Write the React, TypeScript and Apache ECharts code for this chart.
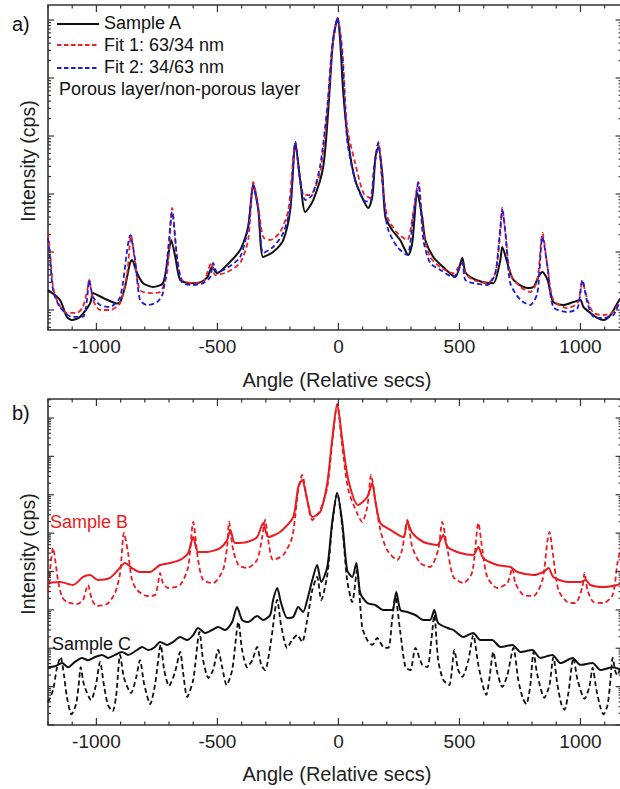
import React, { useEffect, useRef } from 'react';
import * as echarts from 'echarts';

const FONT = '"Liberation Sans", Arial, Helvetica, sans-serif';

// Shared x axis (Angle, relative secs)
const X_MIN = -1200;
const X_MAX = 1170;
const X_LABELS = [-1000, -500, 0, 500, 1000];

// Panel a log axis extent and decades
const A_Y_MIN = 4.52;
const A_Y_MAX = 1.815e6;
const A_Y_MAJOR = [10, 100, 1e3, 1e4, 1e5, 1e6];
// Panel b log axis extent and decades
const B_Y_MIN = 1;
const B_Y_MAX = 3.126e8;
const B_Y_MAJOR = [1, 10, 100, 1e3, 1e4, 1e5, 1e6, 1e7, 1e8];

// ---------- Panel a ----------
const SAMPLE_A = [
  [-1200, 22], [-1151, 15], [-1122, 7.6], [-1101, 6.7], [-1068, 7.6], [-1026, 13], [-1014, 19.6], [-1006, 19],
  [-956, 15], [-915, 13], [-902, 13.7], [-882, 25], [-861, 65], [-853, 73], [-832, 43], [-807, 29], [-766, 25],
  [-725, 29], [-704, 82], [-691, 161], [-674, 82], [-654, 33], [-613, 29], [-572, 30], [-543, 36], [-522, 55],
  [-501, 43], [-460, 60], [-406, 108], [-373, 270], [-352, 1430], [-331, 530], [-311, 82], [-270, 100], [-228, 161],
  [-199, 530], [-178, 7570], [-158, 1740], [-137, 490], [-104, 788], [-63, 2920], [-42, 28100], [-22, 452000],
  [-3, 1080000], [7, 450000], [20, 55000], [41, 7570], [69, 1740], [103, 788], [123, 574], [140, 888], [153, 4350],
  [165, 6460], [181, 2300], [194, 401], [222, 239], [255, 161], [289, 89], [305, 143], [326, 1040], [346, 401],
  [359, 161], [392, 82], [433, 55], [483, 37], [512, 79], [524, 45], [545, 37], [598, 30], [640, 29], [669, 73],
  [677, 122], [698, 65], [723, 33], [781, 24], [806, 25], [826, 37], [843, 45], [864, 33], [888, 13.7], [930, 12.2],
  [971, 13.7], [1000, 14.9], [1012, 11.3], [1041, 8.9], [1070, 7.3], [1095, 6.7], [1124, 8.2], [1153, 13.2], [1170, 17],
];

const FIT_1 = [
  [-1200, 213], [-1192, 108], [-1179, 25], [-1158, 13.2], [-1122, 8.9], [-1081, 8.9], [-1056, 11.3], [-1035, 25],
  [-1030, 33], [-1014, 14.9], [-985, 10], [-944, 10], [-902, 13.2], [-873, 43], [-857, 196], [-840, 65], [-820, 22],
  [-778, 19.6], [-737, 20.4], [-708, 43], [-687, 574], [-667, 82], [-646, 33], [-600, 29], [-559, 30], [-538, 49],
  [-526, 65], [-509, 40], [-460, 45], [-406, 65], [-373, 161], [-352, 1610], [-331, 597], [-311, 181], [-282, 161],
  [-241, 221], [-207, 530], [-178, 7570], [-149, 1040], [-117, 961], [-75, 2500], [-46, 28100], [-26, 304000],
  [-4, 1080000], [16, 304000], [36, 14300], [69, 3420], [103, 1040], [131, 853], [148, 2920], [165, 7880], [181, 1740],
  [202, 401], [243, 213], [284, 161], [309, 470], [330, 1610], [351, 213], [379, 82], [421, 55], [475, 43], [496, 55],
  [512, 65], [524, 43], [557, 33], [615, 29], [648, 43], [669, 213], [677, 574], [690, 213], [710, 43], [752, 25],
  [793, 20.4], [822, 33], [843, 213], [864, 55], [888, 14.9], [946, 10.8], [988, 13.2], [1008, 30], [1029, 14.9],
  [1054, 8.9], [1095, 8.2], [1136, 9.2], [1170, 17],
];

const FIT_2 = [
  [-1200, 174], [-1192, 82], [-1179, 22], [-1151, 11.3], [-1101, 7.6], [-1056, 7.6], [-1039, 14.9], [-1030, 33],
  [-1014, 16.8], [-985, 12.2], [-944, 11.3], [-902, 16.8], [-873, 108], [-861, 196], [-840, 73], [-820, 14.9],
  [-791, 12.2], [-749, 13.7], [-725, 19.6], [-704, 108], [-687, 490], [-667, 82], [-646, 30], [-600, 27], [-559, 29],
  [-530, 37], [-518, 65], [-501, 45], [-460, 53], [-406, 82], [-373, 270], [-352, 1430], [-331, 530], [-311, 96],
  [-270, 122], [-228, 213], [-199, 597], [-178, 7880], [-158, 1740], [-137, 788], [-108, 961], [-75, 3150],
  [-46, 31600], [-26, 342000], [-4, 1080000], [16, 230000], [36, 8530], [69, 1740], [103, 788], [131, 728],
  [148, 2920], [165, 7570], [181, 1740], [202, 270], [243, 122], [284, 89], [309, 401], [330, 1550], [351, 161],
  [379, 65], [421, 49], [475, 37], [496, 49], [512, 65], [524, 33], [557, 29], [615, 27], [648, 43], [669, 270],
  [677, 530], [690, 213], [710, 29], [752, 14.9], [793, 12.2], [822, 19.6], [843, 181], [864, 55], [888, 11.3],
  [946, 9.2], [988, 10.8], [1008, 33], [1029, 13.2], [1054, 7.6], [1095, 7.3], [1136, 8.2], [1170, 17],
];

// ---------- Panel b ----------
const SAMPLE_B = [
  [-1200, 5000], [-1150, 5300], [-1097, 4450], [-1055, 7200], [-1026, 8100], [-994, 6000], [-944, 6800],
  [-911, 10900], [-882, 16600], [-853, 12300], [-820, 9700], [-778, 9700], [-737, 14800], [-696, 16600],
  [-654, 20000], [-621, 30300], [-600, 79300], [-580, 32200], [-543, 32200], [-489, 40900], [-460, 66200],
  [-447, 121000], [-427, 55300], [-377, 58700], [-336, 79300], [-311, 184000], [-290, 79300], [-241, 107000],
  [-187, 263000], [-166, 1590000], [-150, 2420000], [-129, 730000], [-108, 263000], [-75, 356000], [-46, 2020000],
  [-26, 26700000], [-5, 230000000], [16, 26700000], [41, 2420000], [81, 541000], [119, 874000], [140, 2020000],
  [152, 730000], [173, 184000], [215, 121000], [268, 79300], [285, 195000], [305, 101000], [351, 58700],
  [408, 49100], [433, 89300], [451, 43500], [504, 30300], [557, 26900], [578, 43500], [598, 22500], [656, 14800],
  [710, 13100], [739, 9700], [806, 8110], [847, 9700], [868, 12300], [888, 7190], [946, 5320], [1000, 5320],
  [1021, 6010], [1041, 4450], [1095, 3950], [1153, 4450], [1170, 5010],
];

const SAMPLE_B_FIT = [
  [-1200, 2750], [-1179, 40900], [-1159, 6010], [-1142, 2170], [-1122, 1600], [-1081, 1420], [-1055, 1810],
  [-1043, 3300], [-1035, 4450], [-1018, 1810], [-998, 1260], [-956, 1420], [-923, 2750], [-902, 9140],
  [-886, 101000], [-869, 30300], [-853, 6010], [-832, 3300], [-791, 2300], [-758, 2440], [-745, 5010], [-737, 9140],
  [-725, 5010], [-704, 3720], [-654, 4450], [-621, 13100], [-600, 195000], [-580, 20000], [-559, 6010], [-518, 5010],
  [-477, 10900], [-460, 43500], [-452, 195000], [-435, 36300], [-413, 14800], [-377, 12300], [-336, 20000],
  [-315, 79300], [-303, 220000], [-290, 66200], [-270, 20000], [-228, 26900], [-191, 79300], [-166, 1330000],
  [-150, 3270000], [-129, 730000], [-108, 220000], [-75, 401000], [-46, 1590000], [-26, 22300000], [-5, 230000000],
  [16, 17500000], [41, 1330000], [77, 334000], [98, 195000], [119, 480000], [135, 3270000], [152, 730000],
  [173, 121000], [201, 36300], [243, 20000], [263, 36300], [285, 220000], [305, 43500], [338, 16600], [379, 13100],
  [412, 36300], [429, 195000], [451, 36300], [475, 7190], [516, 5010], [553, 9700], [578, 184000], [595, 36300],
  [615, 7190], [656, 3720], [698, 5010], [719, 12300], [731, 5010], [764, 2440], [806, 2300], [843, 6010],
  [864, 66200], [872, 107000], [884, 36300], [909, 3300], [946, 1600], [979, 1510], [1008, 3950], [1017, 9140],
  [1029, 3300], [1054, 1600], [1095, 1510], [1133, 2440], [1153, 16600], [1170, 50000],
];

const SAMPLE_C = [
  [-1200, 32], [-1171, 34], [-1142, 41], [-1117, 32], [-1089, 44], [-1060, 56], [-1035, 49], [-1006, 59], [-977, 67],
  [-952, 56], [-923, 67], [-894, 80], [-869, 67], [-832, 90], [-811, 108], [-786, 90], [-758, 108], [-737, 146],
  [-708, 122], [-683, 146], [-654, 196], [-625, 164], [-600, 221], [-580, 337], [-551, 250], [-522, 299], [-497, 358],
  [-468, 299], [-439, 483], [-419, 1190], [-398, 545], [-373, 483], [-336, 692], [-311, 545], [-282, 735],
  [-270, 1810], [-253, 3720], [-237, 1510], [-212, 614], [-187, 652], [-166, 1190], [-146, 881], [-129, 1810],
  [-108, 6010], [-88, 14800], [-71, 5320], [-46, 13100], [-26, 184000], [-5, 1110000], [16, 184000], [36, 10900],
  [57, 7190], [74, 16600], [90, 2750], [119, 1510], [152, 1340], [185, 993], [222, 993], [239, 2920], [256, 993],
  [285, 881], [318, 735], [351, 545], [379, 545], [396, 993], [412, 455], [451, 337], [475, 299], [516, 196],
  [557, 250], [586, 164], [635, 164], [669, 108], [719, 122], [752, 80], [801, 90], [834, 56], [884, 67], [918, 41],
  [967, 56], [1000, 37], [1050, 41], [1083, 27], [1133, 32], [1170, 27],
];

const SAMPLE_C_FIT = [
  [-1200, 3.9], [-1179, 8.2], [-1163, 31], [-1148, 59], [-1134, 20], [-1122, 5.4], [-1103, 1.9], [-1084, 3.5],
  [-1074, 10], [-1065, 32], [-1051, 11], [-1022, 4.5], [-1002, 11], [-985, 44], [-968, 10], [-952, 3.3], [-933, 2.3],
  [-919, 5.4], [-902, 67], [-886, 17], [-857, 6.8], [-836, 17], [-820, 49], [-803, 12], [-778, 3.5], [-758, 11],
  [-734, 122], [-720, 27], [-700, 10.4], [-675, 24], [-654, 80], [-642, 24], [-625, 5.4], [-600, 15], [-574, 265],
  [-559, 49], [-537, 16.8], [-518, 27], [-497, 90], [-480, 31], [-462, 11], [-439, 27], [-413, 483], [-398, 90],
  [-377, 32], [-356, 49], [-336, 108], [-319, 37], [-303, 27], [-278, 164], [-253, 1810], [-237, 403], [-212, 102],
  [-191, 164], [-170, 221], [-150, 146], [-129, 545], [-108, 3300], [-88, 7190], [-71, 1810], [-46, 8110],
  [-26, 163000], [-5, 1110000], [16, 145000], [36, 6010], [57, 1600], [77, 10900], [98, 358], [119, 164], [140, 122],
  [160, 185], [185, 108], [206, 102], [222, 545], [235, 2170], [256, 250], [277, 32], [297, 27], [318, 102], [346, 37],
  [367, 32], [384, 164], [396, 735], [412, 49], [433, 15], [458, 11], [479, 90], [495, 27], [512, 18], [537, 49],
  [557, 221], [578, 37], [598, 9.8], [611, 6.1], [623, 15], [640, 80], [656, 24], [677, 9.8], [698, 20], [723, 102],
  [743, 15], [760, 5.4], [776, 3.5], [793, 11], [806, 80], [822, 20], [851, 5.1], [872, 11], [888, 59], [905, 11],
  [922, 3.3], [934, 2.5], [950, 6.8], [971, 56], [988, 15], [1017, 4.8], [1037, 10], [1050, 31], [1066, 8.2],
  [1083, 2.8], [1095, 1.9], [1112, 3.3], [1124, 15], [1133, 56], [1145, 24], [1153, 20], [1170, 44],
];

// ---------- helpers ----------
function xMinorTicks(): number[] {
  const out: number[] = [];
  for (let v = X_MIN; v <= X_MAX; v += 100) if (!X_LABELS.includes(v)) out.push(v);
  return out;
}
function logMinorTicks(lo: number, hi: number, majors: number[]): number[] {
  const out: number[] = [];
  const decades = [majors[0] / 10, ...majors];
  decades.forEach((d) => {
    for (let m = 2; m <= 9; m++) {
      const v = d * m;
      if (v > lo && v < hi) out.push(v);
    }
  });
  return out;
}

function tickSeries(idx: number, yMajor: number[], yMinor: number[], yRef: number) {
  const data: number[][] = [
    ...X_LABELS.map((v) => [v, yRef, 0, 7]),
    ...xMinorTicks().map((v) => [v, yRef, 0, 3.5]),
    ...yMajor.map((v) => [X_MIN, v, 1, 6]),
    ...yMinor.map((v) => [X_MIN, v, 1, 3]),
  ];
  return {
    type: 'custom',
    xAxisIndex: idx,
    yAxisIndex: idx,
    silent: true,
    z: 10,
    data,
    renderItem: (params: any, api: any) => {
      const cs = params.coordSys;
      const p = api.coord([api.value(0), api.value(1)]);
      const kind = api.value(2);
      const len = api.value(3);
      const style = { stroke: '#333', lineWidth: 1.2 };
      if (kind === 0) {
        const x = p[0];
        const b = cs.y + cs.height;
        return {
          type: 'group',
          children: [
            { type: 'line', shape: { x1: x, y1: b, x2: x, y2: b - len }, style },
            { type: 'line', shape: { x1: x, y1: cs.y, x2: x, y2: cs.y + len }, style },
          ],
        };
      }
      const y = p[1];
      const r = cs.x + cs.width;
      return {
        type: 'group',
        children: [
          { type: 'line', shape: { x1: cs.x, y1: y, x2: cs.x + len, y2: y }, style },
          { type: 'line', shape: { x1: r, y1: y, x2: r - len, y2: y }, style },
        ],
      };
    },
  };
}

function lineSeries(name: string, data: number[][], color: string, width: number, dashed: boolean, idx: number) {
  return {
    type: 'line',
    name,
    data,
    xAxisIndex: idx,
    yAxisIndex: idx,
    showSymbol: false,
    symbol: 'none',
    smooth: 0.25,
    silent: true,
    lineStyle: { color, width, type: dashed ? [5, 3] : 'solid' },
    z: 3,
  };
}

function txt(text: string, x: number, y: number, size: number, fill = '#111', align = 'left', extra: any = {}) {
  return {
    type: 'text',
    x,
    y,
    ...extra,
    style: { text, fontSize: size, fontFamily: FONT, fill, align, verticalAlign: 'middle' },
  };
}

function legLine(y: number, color: string, dashed: boolean) {
  return {
    type: 'line',
    shape: { x1: 57, y1: y, x2: 99, y2: y },
    style: { stroke: color, lineWidth: dashed ? 1.8 : 2, lineDash: dashed ? [4.5, 2.5] : null },
  };
}

const RED_A = '#e8242b';
const BLUE_A = '#1c1cd6';
const RED_B = '#ea1c22';
const BLACK = '#111111';

export default function App() {
  const ref = useRef<HTMLDivElement>(null);

  useEffect(() => {
    if (!ref.current) return;
    const chart = echarts.init(ref.current, undefined, { renderer: 'svg' });

    const xAxisBase = (gridIndex: number) => ({
      gridIndex,
      type: 'value',
      min: X_MIN,
      max: X_MAX,
      interval: 100,
      axisLine: { show: false },
      axisTick: { show: false },
      splitLine: { show: false },
      axisLabel: {
        margin: 7,
        fontSize: 19,
        fontFamily: FONT,
        color: '#222',
        formatter: (v: number) => (X_LABELS.includes(Math.round(v)) ? String(Math.round(v)) : ''),
      },
    });
    const yAxisBase = (gridIndex: number, min: number, max: number) => ({
      gridIndex,
      type: 'log',
      logBase: 10,
      min,
      max,
      axisLine: { show: false },
      axisTick: { show: false },
      splitLine: { show: false },
      axisLabel: { show: false },
    });

    const gridBase = { show: true, borderColor: '#333', borderWidth: 1.6, backgroundColor: 'transparent', outerBoundsMode: 'none', containLabel: false };

    chart.setOption({
      animation: false,
      backgroundColor: '#ffffff',
      grid: [
        { ...gridBase, left: 48, top: 5, width: 573.6, height: 325 },
        { ...gridBase, left: 48, top: 399, width: 573.6, height: 326 },
      ],
      xAxis: [xAxisBase(0), xAxisBase(1)],
      yAxis: [yAxisBase(0, A_Y_MIN, A_Y_MAX), yAxisBase(1, B_Y_MIN, B_Y_MAX)],
      series: [
        lineSeries('Sample A', SAMPLE_A, BLACK, 2, false, 0),
        lineSeries('Fit 1: 63/34 nm', FIT_1, RED_A, 1.8, true, 0),
        lineSeries('Fit 2: 34/63 nm', FIT_2, BLUE_A, 1.8, true, 0),
        lineSeries('Sample B', SAMPLE_B, RED_B, 2, false, 1),
        lineSeries('Sample B fit', SAMPLE_B_FIT, RED_B, 1.8, true, 1),
        lineSeries('Sample C', SAMPLE_C, BLACK, 2, false, 1),
        lineSeries('Sample C fit', SAMPLE_C_FIT, BLACK, 1.8, true, 1),
        tickSeries(0, A_Y_MAJOR, logMinorTicks(A_Y_MIN, A_Y_MAX, A_Y_MAJOR), 100),
        tickSeries(1, B_Y_MAJOR, logMinorTicks(B_Y_MIN, B_Y_MAX, B_Y_MAJOR), 100),
      ],
      graphic: [
        txt('a)', 12, 24, 20),
        txt('b)', 12, 413, 20),
        legLine(24, BLACK, false),
        legLine(45, RED_A, true),
        legLine(68, BLUE_A, true),
        txt('Sample A', 104, 23, 18),
        txt('Fit 1: 63/34 nm', 104, 44.5, 18),
        txt('Fit 2: 34/63 nm', 104, 67, 18),
        txt('Porous layer/non-porous layer', 59, 88.5, 18),
        txt('Sample B', 50, 522, 18, RED_B),
        txt('Sample C', 52, 644, 18, BLACK),
        txt('Intensity (cps)', 28, 161, 19.5, '#222', 'center', { rotation: Math.PI / 2 }),
        txt('Intensity (cps)', 28, 554, 19.5, '#222', 'center', { rotation: Math.PI / 2 }),
        txt('Angle (Relative secs)', 337, 379.5, 20, '#222', 'center'),
        txt('Angle (Relative secs)', 337, 773.5, 20, '#222', 'center'),
      ],
    });

    return () => chart.dispose();
  }, []);

  return <div ref={ref} style={{ position: 'absolute', left: 0, top: 0, width: 620, height: 789 }} />;
}
